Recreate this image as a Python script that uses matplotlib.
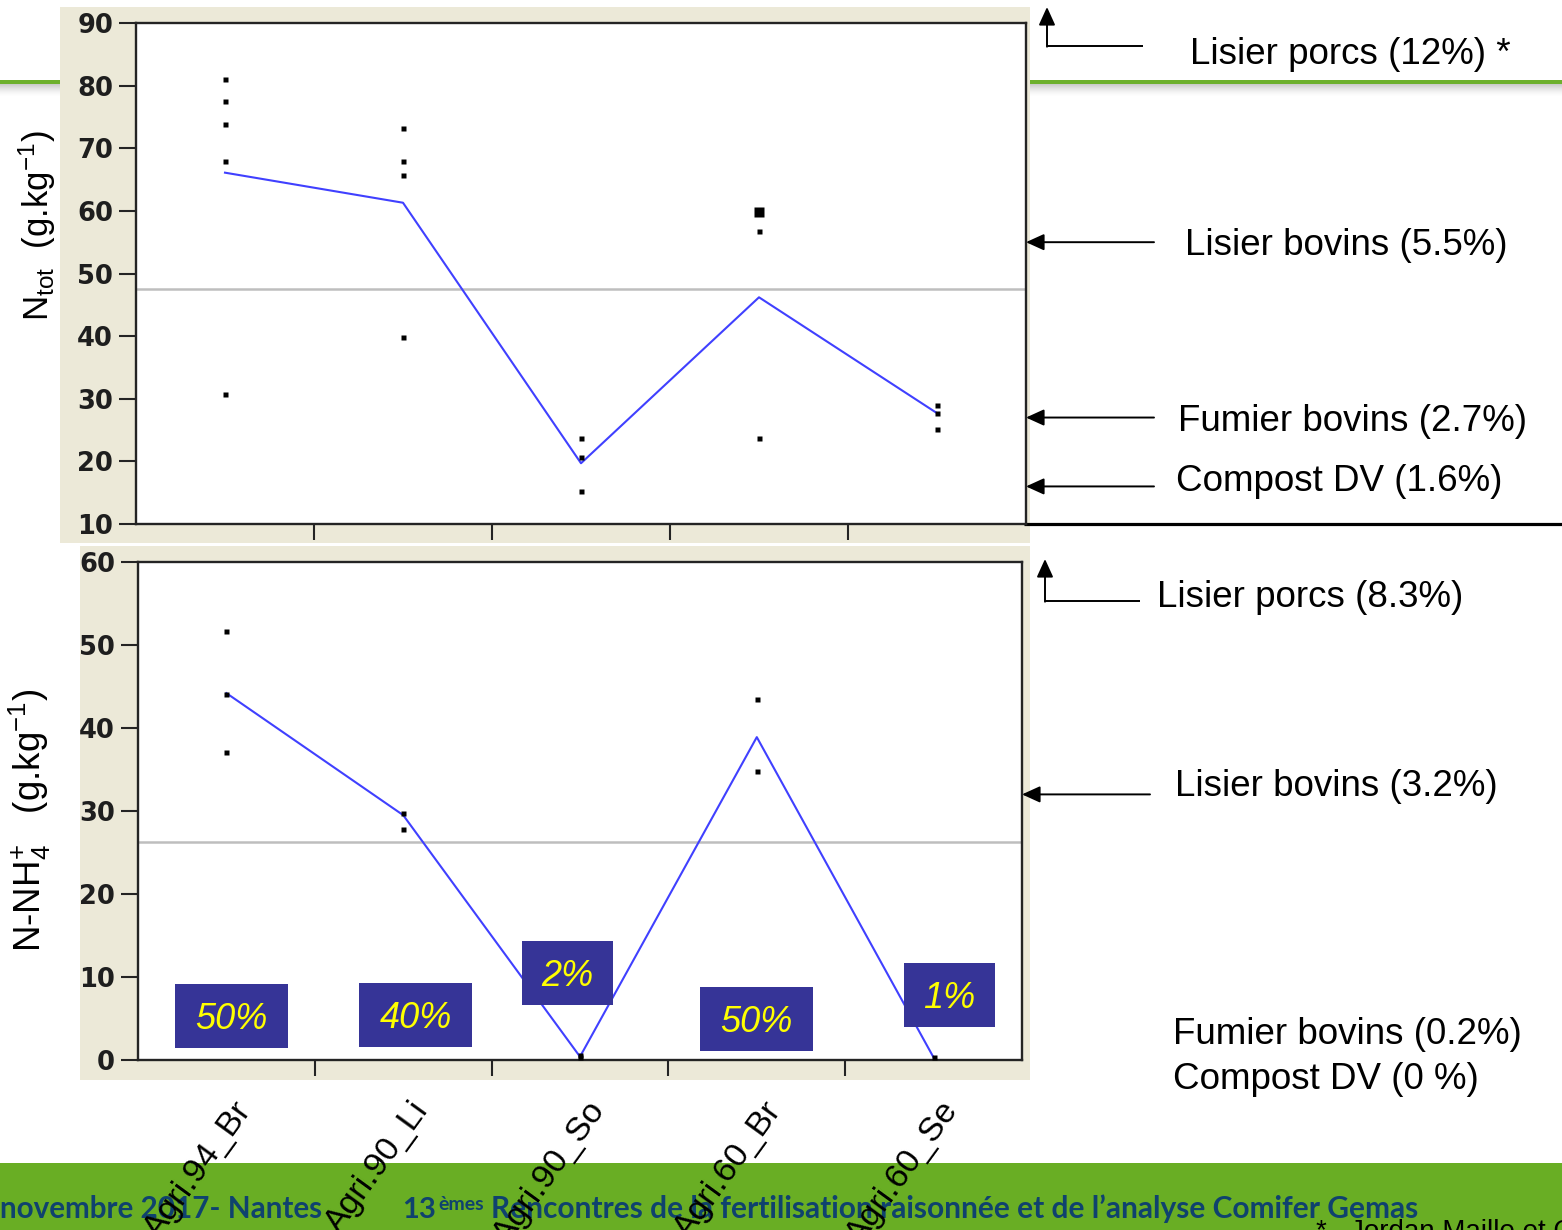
import matplotlib
matplotlib.use('Agg')
import matplotlib.pyplot as plt
from matplotlib.patches import Rectangle
from matplotlib.transforms import ScaledTranslation

plt.rcParams.update({
    'font.family': ['Liberation Sans', 'DejaVu Sans'],
    'mathtext.fontset': 'custom',
    'mathtext.rm': 'Liberation Sans',
    'mathtext.it': 'Liberation Sans:italic',
    'mathtext.bf': 'Liberation Sans:bold',
})

# ---------------------------------------------------------------- data
categories = ['Agri.94_Br', 'Agri.90_Li', 'Agri.90_So', 'Agri.60_Br', 'Agri.60_Se']

# total nitrogen (g/kg) of each sample, per site
ntot_samples = [
    [81.1, 77.5, 73.9, 67.9, 30.7],
    [73.3, 67.9, 65.7, 39.8],
    [23.7, 20.7, 15.2],
    [56.8, 23.7],
    [29.0, 27.8, 25.1],
]
# overlapping samples (drawn as a larger square)
ntot_stacked = [None, None, None, 59.8, None]
ntot_means = [66.1, 61.3, 19.7, 46.2, 27.7]
ntot_overall = 47.6

# ammonium nitrogen (g/kg) of each sample, per site
nh4_samples = [
    [51.7, 44.1, 37.1],
    [29.8, 27.8],
    [0.6, 0.4],
    [43.5, 34.8],
    [0.4],
]
nh4_means = [44.2, 29.5, 0.4, 38.9, 0.3]
nh4_overall = 26.3

# share of N-NH4 in total N per site
nh4_share = ['50%', '40%', '2%', '50%', '1%']

# typical reference products (content in %, i.e. g/kg / 10)
ntot_ref_names = ['Lisier porcs (12%) *', 'Lisier bovins (5.5%)',
                  'Fumier bovins (2.7%)', 'Compost DV (1.6%)']
ntot_ref_values = [120, 55, 27, 16]
nh4_ref_names = ['Lisier porcs (8.3%)', 'Lisier bovins (3.2%)',
                 'Fumier bovins (0.2%)', 'Compost DV (0 %)']
nh4_ref_values = [83, 32, 2, 0]

footer_left = 'novembre 2017- Nantes'
footer_num, footer_sup = '13', 'èmes'
footer_right = 'Rencontres de la fertilisation raisonnée et de l’analyse Comifer Gemas'
footnote = '*   Jordan Maille et C'

# ---------------------------------------------------------------- layout
W, H = 1562, 1230
BEIGE = '#ECE9D8'
GREEN = '#69AE24'
DARK = '#242424'
BLUE = '#4040FF'
BOX = '#363497'

fig = plt.figure(figsize=(W / 100, H / 100), dpi=100)
fig.patch.set_facecolor('white')


def frac(x0, y0, x1, y1):
    return [x0 / W, 1 - y1 / H, (x1 - x0) / W, (y1 - y0) / H]


# slide background layer (pixel coordinates)
bg = fig.add_axes([0, 0, 1, 1], zorder=-10)
bg.set_xlim(0, W)
bg.set_ylim(H, 0)
bg.axis('off')
bg.add_patch(Rectangle((0, 79.5), W, 4.5, color='#6DB02D', lw=0))
for i in range(12):
    bg.add_patch(Rectangle((0, 84 + i), W, 1, color='#8c8c8c',
                           alpha=0.45 * (1 - i / 12) ** 1.5, lw=0))
bg.add_patch(Rectangle((60, 7), 970, 536, color=BEIGE, lw=0))
bg.add_patch(Rectangle((80, 546), 950, 534, color=BEIGE, lw=0))
bg.plot([1024, W], [523.5, 523.5], color='black', lw=2.3, solid_capstyle='butt')
bg.add_patch(Rectangle((0, 1163), W, H - 1163, color=GREEN, lw=0))

FOOT = dict(family=['Lato', 'DejaVu Sans'], weight='bold', color='#0F426E')
bg.text(0, 1218, footer_left, fontsize=21.3, va='baseline', ha='left', **FOOT)
bg.text(402, 1218, footer_num, fontsize=21, va='baseline', ha='left', **FOOT)
bg.text(438, 1210, footer_sup, fontsize=14, va='baseline', ha='left', **FOOT)
bg.text(491, 1218, footer_right, fontsize=21.5, va='baseline', ha='left', **FOOT)
bg.text(1316, 1239, footnote, fontsize=20, va='baseline', ha='left', color='black')

# ---------------------------------------------------------------- plots
ax1 = fig.add_axes(frac(136, 23, 1026, 524))
ax2 = fig.add_axes(frac(138, 562, 1022, 1060))

x = list(range(len(categories)))


def style(ax, ylim, yticks):
    ax.set_facecolor('white')
    ax.set_xlim(-0.5, len(categories) - 0.5)
    ax.set_ylim(*ylim)
    for s in ax.spines.values():
        s.set_color(DARK)
        s.set_linewidth(1.7)
    ax.set_yticks(yticks, labels=[str(t) for t in yticks],
                  fontfamily='DejaVu Sans', fontweight='bold', fontsize=18.5,
                  color='#1e1e1e')
    ax.set_xticks([i + 0.5 for i in x[:-1]])
    ax.tick_params(axis='y', direction='out', length=12.5, width=1.5,
                   color=DARK, pad=4)
    ax.tick_params(axis='x', which='major', direction='out', length=11.5,
                   width=1.5, color=DARK, labelbottom=False)


def draw_panel(ax, samples, means, overall, stacked=None):
    ax.axhline(overall, color='#BEBEBE', lw=1.8, zorder=1)
    ax.plot(x, means, color=BLUE, lw=1.5, zorder=2)
    for i, vals in enumerate(samples):
        ax.plot([i] * len(vals), vals, 's', ms=3.6, color='black',
                mec='none', zorder=3)
    if stacked:
        for i, v in enumerate(stacked):
            if v is not None:
                ax.plot([i], [v], 's', ms=7.2, color='black', mec='none', zorder=3)


style(ax1, (10, 90), list(range(10, 91, 10)))
style(ax2, (0, 60), list(range(0, 61, 10)))
draw_panel(ax1, ntot_samples, ntot_means, ntot_overall, ntot_stacked)
draw_panel(ax2, nh4_samples, nh4_means, nh4_overall)

# axis titles
ax1.set_ylabel(r'N$_{\mathrm{tot}}$  (g.kg$^{\mathrm{-1}}$)', fontsize=25,
               ha='center', va='center')
ax1.yaxis.set_label_coords(-0.1112, 0.595)
ax2.set_ylabel(r'N-NH$_{\mathrm{4}}^{\mathrm{+}}$   (g.kg$^{\mathrm{-1}}$)', fontsize=26.5,
               ha='center', va='center')
ax2.yaxis.set_label_coords(-0.122, 0.482)

# site names under the lower panel
ax2.set_xticks(x, minor=True)
ax2.tick_params(axis='x', which='minor', length=0, pad=0)
ax2.set_xticklabels(categories, minor=True, rotation=54, ha='right',
                    va='center', rotation_mode='anchor', fontsize=24.5)

# share of ammonium boxes
share_x = [0.03, 1.07, 1.93, 3.0, 4.09]
share_y = [5.3, 5.4, 10.5, 4.9, 7.8]
share_w = [0.64, 0.64, 0.515, 0.64, 0.52]
share_h = 7.7
for lab, cx, cy, w in zip(nh4_share, share_x, share_y, share_w):
    ax2.add_patch(Rectangle((cx - w / 2, cy - share_h / 2), w, share_h,
                            facecolor=BOX, edgecolor='none', zorder=4))
    ax2.text(cx, cy - 1.55, lab, color='#FFFF00', style='italic', fontsize=26,
             ha='center', va='baseline', zorder=5)

# ---------------------------------------------------------------- references
ov = fig.add_axes([0, 0, 1, 1], zorder=10)
ov.set_xlim(0, W)
ov.set_ylim(H, 0)
ov.axis('off')

ARROW = dict(arrowstyle='-|>,head_length=11,head_width=5', color='black',
             lw=1.4, shrinkA=0, shrinkB=0, mutation_scale=1)

# off-scale (upward) references
for (xv, yh, ytip, xend) in [(1047, 46, 7, 1143), (1045, 601, 559, 1140)]:
    ov.plot([xv, xend], [yh, yh], color='black', lw=1.4, solid_capstyle='butt')
    ov.annotate('', xy=(xv, ytip), xytext=(xv, yh + 0.7), arrowprops=ARROW)

# on-scale references pointing at the panel edge
for ax, vals, ymax in [(ax1, ntot_ref_values, 90), (ax2, nh4_ref_values, 60)]:
    for v in vals:
        if 5 < v <= ymax:
            ax.annotate('', xy=(1.0, v), xycoords=ax.get_yaxis_transform(),
                        xytext=(128, 0), textcoords='offset pixels',
                        arrowprops=ARROW, annotation_clip=False)

ref_pos = [(1190, 64), (1185, 255), (1178, 431), (1176, 491)]
for name, (tx, ty) in zip(ntot_ref_names, ref_pos):
    ov.text(tx, ty, name, fontsize=26.5, ha='left', va='baseline', color='black')
ref_pos2 = [(1157, 607), (1175, 796), (1173, 1044), (1173, 1089)]
for name, (tx, ty) in zip(nh4_ref_names, ref_pos2):
    ov.text(tx, ty, name, fontsize=26.5, ha='left', va='baseline', color='black')

# shift the rotated site names to sit just below-right of each site
shift = ScaledTranslation(0.19, -0.45, fig.dpi_scale_trans)
for lab in ax2.get_xticklabels(minor=True):
    lab.set_transform(lab.get_transform() + shift)

fig.savefig('out.png', dpi=100)
